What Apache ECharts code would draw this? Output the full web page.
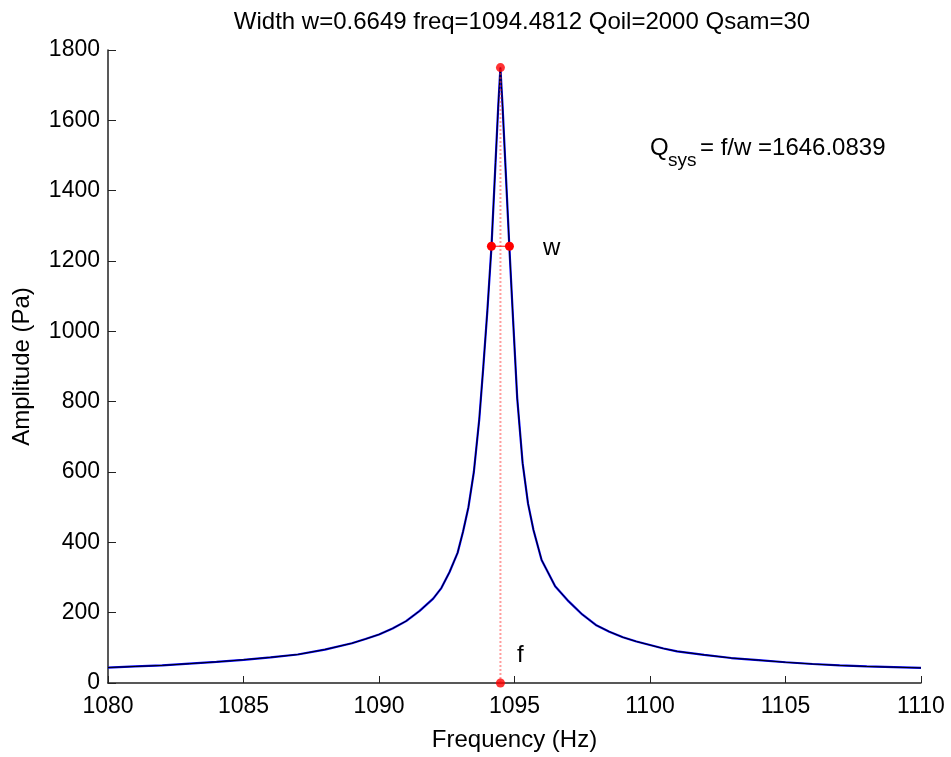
<!DOCTYPE html>
<html>
<head>
<meta charset="utf-8">
<script src="https://cdn.jsdelivr.net/npm/echarts@6/dist/echarts.min.js"></script>
<style>
html,body{margin:0;padding:0;background:#fff;}
#chart{width:951px;height:757px;}
</style>
</head>
<body>
<div id="chart"></div>
<script>
// ---- data ----
var freqs = [1080,1081,1082,1083,1084,1085,1086,1087,1088,1089,1089.5,1090,1090.5,1091,1091.5,1092,1092.3,1092.6,1092.9,
  1093.1,1093.3,1093.5,1093.7,1093.85,1094.0,1094.15,1094.3,1094.4,1094.48,1094.56,1094.66,1094.81,1094.95,
  1095.1,1095.3,1095.5,1095.7,1096.0,1096.5,1097,1097.5,1098,1098.5,1099,1099.5,1100,1100.5,1101,1102,1103,1104,1105,1106,1107,1108,1109,1110];
var measured = [44,47,50,55,60,66,73,81,95,113,125,138,155,176,205,240,270,315,370,
  430,500,600,750,900,1060,1240,1480,1640,1750,1640,1480,1240,1030,
  810,625,510,435,350,275,232,195,165,146,130,118,108,98,90,80,71,65,59,54,50,47,45,43];
var fitted = measured.slice();
var peakFreq = 1094.4812;
var peakAmp = 1750;
var halfAmp = 1242;
var halfLow = 1094.148;
var halfHigh = 1094.813;
var titleText = 'Width w=0.6649 freq=1094.4812 Qoil=2000 Qsam=30';
var qText = '= f/w =1646.0839';

function pairs(xs, ys){ return xs.map(function(x,i){return [x, ys[i]];}); }

var chart = echarts.init(document.getElementById('chart'), null, {renderer:'canvas'});
var FONT = 'Liberation Sans, Arial, sans-serif';
var option = {
  animation:false,
  backgroundColor:'#fff',
  title:{
    text:titleText, left:517, top:5, textAlign:'center',
    textStyle:{fontFamily:FONT, fontSize:24, fontWeight:'normal', color:'#000'}
  },
  grid:{left:108, right:30, top:50, bottom:68},
  xAxis:{
    type:'value', min:1080, max:1110, interval:5,
    name:'Frequency (Hz)', nameLocation:'middle', nameGap:45,
    nameTextStyle:{fontFamily:FONT, fontSize:24, color:'#000'},
    axisLine:{lineStyle:{color:'#222', width:1.5}},
    axisTick:{inside:true, length:7, lineStyle:{color:'#222'}},
    axisLabel:{fontFamily:FONT, fontSize:23, color:'#000', margin:12, formatter:function(v){return String(v);}},
    splitLine:{show:false}
  },
  yAxis:{
    type:'value', min:0, max:1800, interval:200,
    name:'Amplitude (Pa)', nameLocation:'middle', nameGap:74,
    nameTextStyle:{fontFamily:FONT, fontSize:24, color:'#000'},
    axisLine:{show:true, lineStyle:{color:'#222', width:1.5}},
    axisTick:{show:true, inside:true, length:8, lineStyle:{color:'#222'}},
    axisLabel:{fontFamily:FONT, fontSize:23, color:'#000', margin:8, formatter:function(v){return String(v);}},
    splitLine:{show:false}
  },
  series:[
    {type:'line', data:pairs(freqs, measured), showSymbol:false, smooth:false,
     lineStyle:{color:'#0000ff', width:2.2}, z:2},
    {type:'line', data:pairs(freqs, fitted), showSymbol:false, smooth:false,
     lineStyle:{color:'#000', width:1}, z:3},
    {type:'line', data:[[peakFreq,0],[peakFreq,peakAmp]], showSymbol:false,
     lineStyle:{color:'rgba(255,60,60,0.5)', width:2, type:'dotted'}, z:4},
    {type:'line', data:[[halfLow,halfAmp],[halfHigh,halfAmp]], symbol:'circle', symbolSize:9,
     itemStyle:{color:'#ff0000'}, lineStyle:{color:'#ff0000', width:1}, z:5},
    {type:'scatter', data:[[peakFreq,peakAmp],[peakFreq,0]], symbol:'circle', symbolSize:9,
     itemStyle:{color:'#ff0000'}, z:6}
  ],
  graphic:[
    {type:'text', left:543, top:236, style:{text:'w', font:'24px Liberation Sans', fill:'#000'}},
    {type:'text', left:517, top:643, style:{text:'f', font:'24px Liberation Sans', fill:'#000'}},
    {type:'text', left:650, top:136, style:{text:'Q', font:'24px Liberation Sans', fill:'#000'}},
    {type:'text', left:668, top:151, style:{text:'sys', font:'19px Liberation Sans', fill:'#000'}},
    {type:'text', left:700, top:136, style:{text:qText, font:'24px Liberation Sans', fill:'#000'}}
  ]
};
chart.setOption(option);
</script>
</body>
</html>
